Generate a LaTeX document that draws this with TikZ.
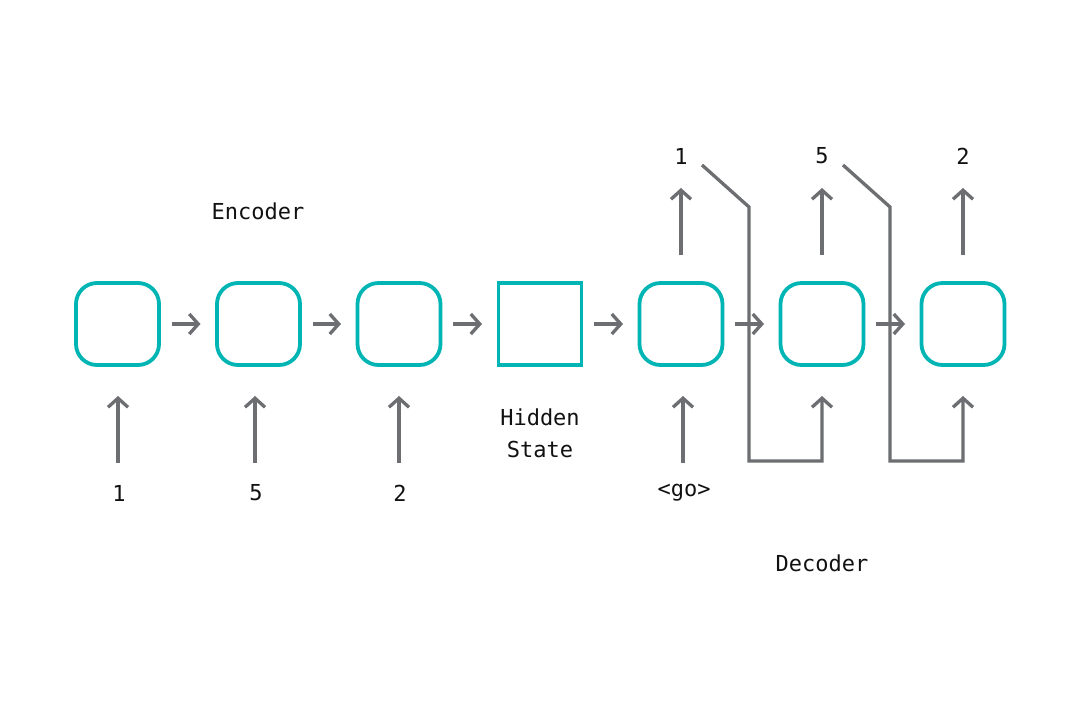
\documentclass[tikz,border=0pt]{standalone}
\usepackage{fontspec}
\setmonofont{DejaVu Sans Mono}
\usetikzlibrary{arrows.meta}
\definecolor{tealc}{HTML}{00B5B3}
\definecolor{grayc}{HTML}{6D6E71}
\definecolor{txtc}{HTML}{111111}
\begin{document}
\begin{tikzpicture}[x=1pt,y=-1pt,
  rbox/.style={draw=tealc, line width=3.8pt, rounded corners=21pt, minimum width=83pt, minimum height=82pt, inner sep=0pt},
  sbox/.style={draw=tealc, line width=3.8pt, minimum width=83pt, minimum height=82pt, inner sep=0pt},
  arr/.style={draw=grayc, line width=3.3pt, -{Straight Barb[length=9pt,width=20pt]}},
  lbl/.style={font=\fontsize{22}{32}\selectfont\ttfamily, text=txtc, inner sep=0pt, align=center}]
\useasboundingbox (0,0) rectangle (1081,721);
\fill[white] (0,0) rectangle (1081,721);
% boxes
\node[rbox] (e1) at (117.5,324) {};
\node[rbox] (e2) at (258.5,324) {};
\node[rbox] (e3) at (399,324) {};
\node[sbox] (hs) at (540,324) {};
\node[rbox] (d1) at (681,324) {};
\node[rbox] (d2) at (822,324) {};
\node[rbox] (d3) at (963,324) {};
% horizontal arrows
\foreach \a/\b in {e1/e2,e2/e3,e3/hs,hs/d1,d1/d2,d2/d3}
  \draw[arr, shorten <=54pt, shorten >=58pt] (\a.center) -- (\b.center);
% labels
\node[lbl] (i1) at (119,493) {1};
\node[lbl] (i2) at (256,493) {5};
\node[lbl] (i3) at (400,493) {2};
\node[lbl] (i4) at (684,493) {<go>};
\node[lbl] (o1) at (681,156) {1};
\node[lbl] (o2) at (822,156) {5};
\node[lbl] (o3) at (963,156) {2};
\node[lbl] (enc) at (258,211) {Encoder};
\node[lbl] (hid) at (540,433) {Hidden\\State};
\node[lbl] (dec) at (822,563) {Decoder};
% input arrows
\draw[arr] (118,463) -- (118,396);
\draw[arr] (255,463) -- (255,396);
\draw[arr] (399,463) -- (399,396);
\draw[arr] (683,463) -- (683,396);
% output arrows
\foreach \n in {1,2,3}
  \draw[arr, shorten <=69pt, shorten >=32pt] (d\n.center) -- (o\n.center);
% feedback
\coordinate (f1a) at (702,165);
\coordinate (f1b) at (749,207);
\coordinate (f1c) at (749,461);
\coordinate (f1d) at (822,461);
\coordinate (f1e) at (822,396);
\draw[arr] (f1a) -- (f1b) -- (f1c) -- (f1d) -- (f1e);
\coordinate (f2a) at (843,165);
\coordinate (f2b) at (890,207);
\coordinate (f2c) at (890,461);
\coordinate (f2d) at (963,461);
\coordinate (f2e) at (963,396);
\draw[arr] (f2a) -- (f2b) -- (f2c) -- (f2d) -- (f2e);
\end{tikzpicture}
\end{document}
